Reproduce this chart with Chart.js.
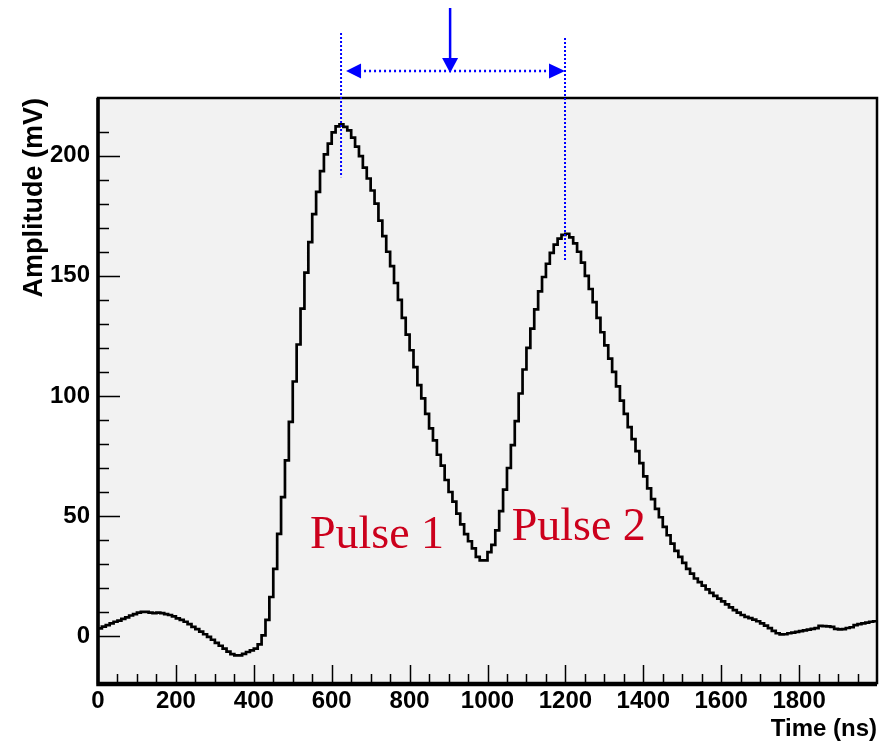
<!DOCTYPE html>
<html>
<head>
<meta charset="utf-8">
<script src="https://cdn.jsdelivr.net/npm/chart.js@4/dist/chart.umd.min.js"></script>
<style>
  html, body { margin: 0; padding: 0; background: #ffffff; }
  #wrap { width: 887px; height: 744px; position: relative; }
</style>
</head>
<body>
<div id="wrap"><canvas id="c" width="887" height="744"></canvas></div>
<script>
// ---- data (histogram: 10 ns bins from 0 to 2000 ns) ----
const binStart = 0;      // ns
const binWidth = 10;     // ns
const amplitude = [
  3.2, 4.0, 4.6, 5.3, 6.0, 6.5, 7.2, 7.8, 8.6, 9.2,
  9.8, 10.1, 10.1, 9.8, 9.6, 9.8, 9.6, 9.2, 8.8, 8.2,
  7.4, 6.8, 6.0, 5.0, 3.9, 2.9, 1.9, 0.8, -0.3, -1.5,
  -2.8, -4.0, -5.2, -6.4, -7.5, -8.0, -8.0, -7.4, -6.6, -5.9,
  -5.2, -3.4, 0.3, 6.8, 16.3, 28, 42.6, 57.9, 73.2, 89.2,
  106, 121.4, 136.3, 151.3, 164, 175.7, 184.9, 193.6, 200.5, 205,
  209.7, 212.2, 213, 212, 210.5, 207.5, 203.8, 199.8, 195, 190.5,
  185.5, 180, 173, 166.5, 160, 154, 147, 140, 132.5, 125.5,
  119, 112, 104.5, 99, 92.5, 86.5, 81.5, 75.5, 71, 65,
  60, 56, 51, 46.5, 42.5, 39.5, 36.5, 33, 31.5, 31.5,
  35, 38, 44, 52, 61, 70, 79.5, 89.5, 101, 111,
  120, 128, 136, 143.5, 149.5, 155, 159.5, 163, 165.5, 167,
  167.5, 166, 163.5, 160, 155.5, 150, 144.5, 139, 132.5, 126.5,
  121, 115.5, 110, 104, 98, 92.5, 87, 82, 77, 72,
  66.5, 61.5, 57, 53, 49.5, 45.5, 42, 38.5, 35.5, 33,
  30.5, 28, 26, 24, 22.5, 21, 19.5, 18, 16.8, 15.6,
  14.5, 13.2, 12, 10.8, 9.8, 8.8, 8.0, 7.5, 6.9, 6.2,
  5.3, 4.4, 3.3, 2.2, 1.2, 0.7, 0.8, 1.2, 1.5, 1.8,
  2.1, 2.4, 2.7, 3.0, 3.3, 4.3, 4.2, 4.1, 3.9, 3.0,
  2.8, 2.9, 3.4, 3.7, 4.6, 5.0, 5.3, 5.6, 6.0, 6.2
];
const xTickLabels = [0, 200, 400, 600, 800, 1000, 1200, 1400, 1600, 1800];
const yTickLabels = [0, 50, 100, 150, 200];
const xRange = [0, 2000];
const yRange = [-19.5, 224];

// annotation anchors (data units)
const peak1Time = 624, peak1LineEnd = 191;
const peak2Time = 1199, peak2LineEnd = 156;
const arrowTime = 904;
const pulseLabels = [
  { text: 'Pulse 1', t: 544, v: 36.9 },
  { text: 'Pulse 2', t: 1062, v: 40.2 }
];

// ---- build histogram points (left bin edges + closing edge) ----
const points = amplitude.map((v, i) => ({ x: binStart + i * binWidth, y: v }));
points.push({ x: binStart + amplitude.length * binWidth, y: amplitude[amplitude.length - 1] });

const near = (arr, v) => arr.some(t => Math.abs(t - v) < 1e-6);
const boldFont = (size) => ({ family: '"Liberation Sans", Arial, Helvetica, sans-serif', size: size, weight: 'bold' });

const rootStyle = {
  id: 'rootStyle',
  beforeDraw(chart) {
    const { ctx, chartArea: a } = chart;
    ctx.save();
    ctx.fillStyle = '#ffffff';
    ctx.fillRect(0, 0, chart.width, chart.height);
    ctx.fillStyle = '#f2f2f2';
    ctx.fillRect(a.left, a.top, a.right - a.left, a.bottom - a.top);
    ctx.restore();
  },
  afterDatasetsDraw(chart) {
    const { ctx, chartArea: a } = chart;
    const xs = chart.scales.x, ys = chart.scales.y;
    ctx.save();
    // inward tick marks
    ctx.strokeStyle = '#000';
    ctx.lineWidth = 1.5;
    ctx.beginPath();
    xs.ticks.forEach(t => {
      const v = t.value;
      if (Math.abs(v % 50) > 1e-6 || v <= xRange[0] || v >= xRange[1]) return;
      const px = Math.round(xs.getPixelForValue(v)) + 0.5;
      const len = Math.abs(v % 200) < 1e-6 ? 18 : 9;
      ctx.moveTo(px, a.bottom);
      ctx.lineTo(px, a.bottom - len);
    });
    ys.ticks.forEach(t => {
      const v = t.value;
      if (Math.abs(v % 10) > 1e-6) return;
      const py = Math.round(ys.getPixelForValue(v)) + 0.5;
      const len = Math.abs(v % 50) < 1e-6 ? 22 : 11;
      ctx.moveTo(a.left, py);
      ctx.lineTo(a.left + len, py);
    });
    ctx.stroke();
    // frame
    ctx.lineWidth = 2.5;
    ctx.strokeRect(a.left, a.top, a.right - a.left, a.bottom - a.top);
    ctx.lineWidth = 3.5;
    ctx.beginPath();
    ctx.moveTo(a.left, a.top);
    ctx.lineTo(a.left, a.bottom + 1.5);
    ctx.lineTo(a.right, a.bottom + 1.5);
    ctx.stroke();

    // blue annotations
    const blue = 'rgb(0,0,255)';
    ctx.strokeStyle = blue;
    ctx.fillStyle = blue;
    const x1 = xs.getPixelForValue(peak1Time);
    const x2 = xs.getPixelForValue(peak2Time);
    const xm = xs.getPixelForValue(arrowTime);
    ctx.lineWidth = 2;
    ctx.setLineDash([2, 2]);
    ctx.beginPath();
    ctx.moveTo(x1, a.top - 65); ctx.lineTo(x1, ys.getPixelForValue(peak1LineEnd));
    ctx.moveTo(x2, a.top - 60); ctx.lineTo(x2, ys.getPixelForValue(peak2LineEnd));
    ctx.stroke();
    const ay = a.top - 27;
    ctx.setLineDash([2, 3]);
    ctx.lineWidth = 2.5;
    ctx.beginPath();
    ctx.moveTo(x1 + 18, ay); ctx.lineTo(x2 - 15, ay);
    ctx.stroke();
    ctx.setLineDash([]);
    ctx.beginPath();
    ctx.moveTo(x1 + 5, ay); ctx.lineTo(x1 + 20, ay - 7.5); ctx.lineTo(x1 + 20, ay + 7.5); ctx.closePath();
    ctx.moveTo(x2, ay); ctx.lineTo(x2 - 16, ay - 7.5); ctx.lineTo(x2 - 16, ay + 7.5); ctx.closePath();
    ctx.fill();
    // vertical solid arrow
    ctx.lineWidth = 2.5;
    ctx.beginPath();
    ctx.moveTo(xm, a.top - 90); ctx.lineTo(xm, a.top - 38);
    ctx.stroke();
    ctx.beginPath();
    ctx.moveTo(xm, a.top - 25); ctx.lineTo(xm - 8, a.top - 40); ctx.lineTo(xm + 8, a.top - 40); ctx.closePath();
    ctx.fill();

    // red labels
    ctx.fillStyle = 'rgb(204,0,28)';
    ctx.font = '46px "Liberation Serif", "Times New Roman", serif';
    ctx.textBaseline = 'alphabetic';
    ctx.textAlign = 'left';
    pulseLabels.forEach(p => ctx.fillText(p.text, xs.getPixelForValue(p.t), ys.getPixelForValue(p.v)));
    ctx.restore();
  }
};

new Chart(document.getElementById('c'), {
  type: 'line',
  data: {
    datasets: [{
      data: points,
      stepped: 'before',
      borderColor: '#000000',
      borderWidth: 2.7,
      pointRadius: 0,
      fill: false
    }]
  },
  options: {
    responsive: false,
    animation: false,
    devicePixelRatio: 1,
    layout: { padding: { left: 0, top: 98, right: 10, bottom: 0 } },
    plugins: { legend: { display: false }, tooltip: { enabled: false } },
    scales: {
      x: {
        type: 'linear',
        min: xRange[0], max: xRange[1],
        grid: { display: false, drawTicks: false },
        border: { display: false },
        ticks: {
          stepSize: 50, autoSkip: false, maxRotation: 0, padding: 4,
          color: '#000', font: boldFont(24),
          callback: v => near(xTickLabels, v) ? String(v) : ''
        },
        title: { display: true, text: 'Time (ns)', align: 'end', color: '#000', font: boldFont(24), padding: 0 },
        afterFit: s => { s.height = 61; }
      },
      y: {
        type: 'linear',
        min: yRange[0], max: yRange[1],
        grid: { display: false, drawTicks: false },
        border: { display: false },
        ticks: {
          stepSize: 10, autoSkip: false, padding: 8,
          color: '#000', font: boldFont(24),
          callback: v => near(yTickLabels, v) ? String(v) : ''
        },
        title: { display: true, text: 'Amplitude (mV)', align: 'end', color: '#000', font: boldFont(27), padding: { top: 18, bottom: 0 } },
        afterFit: s => { s.width = 98; }
      }
    }
  },
  plugins: [rootStyle]
});
</script>
</body>
</html>
